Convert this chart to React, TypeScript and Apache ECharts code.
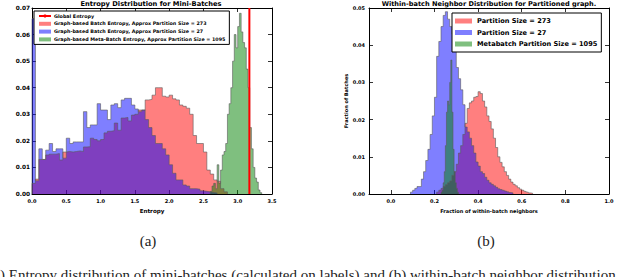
import React, { useEffect, useRef } from "react";
import * as echarts from "echarts";

// ---------- Data ----------
// (a) Entropy histograms
const ENTROPY_TICKS = [0, 0.5, 1.0, 1.5, 2.0, 2.5, 3.0, 3.5];
const GLOBAL_ENTROPY = 3.17;
const ENT_273_START = 0;
const ENT_273_BIN = 0.05;
const ENT_273 = [
  0.004, 0.0056, 0.013, 0.013, 0.0147, 0.015, 0.015, 0.0152, 0.0128, 0.0158,
  0.016, 0.0158, 0.016, 0.0162, 0.016, 0.0177, 0.0178, 0.021, 0.0205, 0.02,
  0.0205, 0.023, 0.0236, 0.0238, 0.0267, 0.024, 0.0286, 0.0288, 0.0275, 0.0297,
  0.03, 0.0316, 0.0316, 0.0354, 0.0356, 0.0372, 0.04, 0.04, 0.0368, 0.0365,
  0.0372, 0.0358, 0.0354, 0.0335, 0.033, 0.0323, 0.03, 0.022, 0.019, 0.019,
  0.0158, 0.009, 0.0075, 0.0053, 0.0048, 0.002, 0.0008,
];
const ENT_27_START = 0;
const ENT_27_BIN = 0.05;
const ENT_27 = [
  0.066, 0.005, 0.017, 0.013, 0.0165, 0.019, 0.016, 0.017, 0.017, 0.0135,
  0.021, 0.019, 0.0196, 0.0196, 0.0196, 0.031, 0.025, 0.026, 0.026, 0.034,
  0.0316, 0.0316, 0.028, 0.0335, 0.034, 0.0325, 0.0354, 0.036, 0.036, 0.0335,
  0.032, 0.031, 0.0316, 0.028, 0.025, 0.022, 0.019, 0.019, 0.017, 0.0147,
  0.011, 0.0078, 0.0053, 0.0053, 0.0034, 0.003, 0.002, 0.002, 0.0018, 0.0012,
  0.001, 0.0008, 0.0006, 0.0004,
];
const ENT_1095_START = 2.6;
const ENT_1095_BIN = 0.025;
const ENT_1095 = [
  0.001, 0.003, 0.004, 0.002, 0.011, 0.004, 0.009, 0.0147, 0.016, 0.019,
  0.03, 0.034, 0.04, 0.05, 0.06, 0.055, 0.063, 0.068, 0.061, 0.057,
  0.055, 0.047, 0.04, 0.025, 0.017, 0.01, 0.006, 0.0045, 0.0015, 0.0005,
];

// (b) Within-batch neighbour histograms
const NB_TICKS = [0, 0.2, 0.4, 0.6, 0.8, 1.0];
const NB_27_START = 0.09;
const NB_27_BIN = 0.01;
const NB_27 = [
  0.0005, 0.001, 0.0015, 0.002, 0.002, 0.004, 0.006, 0.009, 0.012, 0.016,
  0.021, 0.026, 0.037, 0.041, 0.045, 0.048, 0.049, 0.047, 0.045, 0.043,
  0.039, 0.034, 0.031, 0.028, 0.024, 0.018, 0.0167, 0.015, 0.013, 0.011,
  0.0086, 0.0075, 0.006, 0.0055, 0.0045, 0.0037, 0.003, 0.0026, 0.0022, 0.0018,
  0.0014, 0.0012, 0.001, 0.0008, 0.0006, 0.0004, 0.0003,
];
const NB_273_START = 0.21;
const NB_273_BIN = 0.01;
const NB_273 = [
  0.0005, 0.001, 0.0015, 0.002, 0.0025, 0.003, 0.0035, 0.005, 0.006, 0.008,
  0.011, 0.013, 0.016, 0.019, 0.023, 0.0245, 0.025, 0.026, 0.0262, 0.0275,
  0.027, 0.025, 0.0234, 0.021, 0.0195, 0.0175, 0.015, 0.0125, 0.01, 0.0085,
  0.0073, 0.006, 0.005, 0.004, 0.0032, 0.0026, 0.0022, 0.0017, 0.0013, 0.001,
  0.0007, 0.0005, 0.0003, 0.0002,
];
const NB_1095_START = 0.23;
const NB_1095_BIN = 0.005;
const NB_1095 = [
  0.0005, 0.001, 0.003, 0.006, 0.013, 0.022, 0.025, 0.024, 0.03, 0.036,
  0.022, 0.012, 0.006, 0.003, 0.0015, 0.0005,
];

const NAME_GLOBAL = "Global Entropy";
const NAME_E273 = "Graph-based Batch Entropy, Approx Partition Size = 273";
const NAME_E27 = "Graph-based Batch Entropy, Approx Partition Size = 27";
const NAME_E1095 = "Graph-based Meta-Batch Entropy, Approx Partition Size = 1095";
const NAME_P273 = "Partition Size = 273";
const NAME_P27 = "Partition Size = 27";
const NAME_P1095 = "Metabatch Partition Size = 1095";

// ---------- helpers ----------
function histPoints(start: number, width: number, values: number[]) {
  const pts: number[][] = [[start, 0]];
  values.forEach((v, i) => pts.push([start + i * width, v]));
  pts.push([start + values.length * width, 0]);
  return pts;
}

const FONT = "DejaVu Sans";
const RED = "rgba(255,0,0,0.5)";
const BLUE = "rgba(0,0,255,0.5)";
const GREEN = "rgba(0,128,0,0.5)";
const EDGE = "rgba(90,90,90,0.75)";

function histSeries(name: string, xi: number, yi: number, data: number[][], color: string) {
  return {
    type: "line",
    name,
    xAxisIndex: xi,
    yAxisIndex: yi,
    data,
    step: "end",
    symbol: "none",
    showSymbol: false,
    color,
    silent: true,
    lineStyle: { color: EDGE, width: 0.8 },
    areaStyle: { color, opacity: 1 },
  };
}

const axisLine = { show: true, onZero: false, lineStyle: { color: "#000", width: 1 } };
const tickIn = { show: true, inside: true, length: 4, lineStyle: { color: "#000", width: 0.8 } };

export default function App() {
  const ref = useRef<HTMLDivElement>(null);

  useEffect(() => {
    if (!ref.current) return;
    const chart = echarts.init(ref.current, undefined, { renderer: "svg" });

    const option: any = {
      animation: false,
      backgroundColor: "#fff",
      grid: [
        { left: 32, top: 8, width: 240, height: 186 },
        { left: 369, top: 8, width: 240, height: 186 },
      ],
      xAxis: [
        {
          type: "value", gridIndex: 0, position: "bottom", min: 0, max: 3.5, interval: 0.5,
          axisLine, axisTick: tickIn, splitLine: { show: false },
          axisLabel: {
            fontSize: 5, fontWeight: "bold", fontFamily: FONT, color: "#000", margin: 4,
            showMinLabel: true, showMaxLabel: true,
            formatter: (v: number) => v.toFixed(1),
          },
          name: "Entropy", nameLocation: "middle", nameGap: 14,
          nameTextStyle: { fontSize: 5.6, fontWeight: "bold", fontFamily: FONT, color: "#000" },
        },
        {
          type: "value", gridIndex: 0, position: "top", min: 0, max: 3.5, interval: 0.5,
          axisLine, axisTick: tickIn, splitLine: { show: false }, axisLabel: { show: false },
        },
        {
          type: "value", gridIndex: 1, position: "bottom", min: -0.1, max: 1.0,
          axisLine,
          axisTick: { ...tickIn, customValues: NB_TICKS },
          splitLine: { show: false },
          axisLabel: {
            customValues: NB_TICKS,
            fontSize: 5, fontWeight: "bold", fontFamily: FONT, color: "#000", margin: 4,
            formatter: (v: number) => v.toFixed(1),
          },
          name: "Fraction of within-batch neighbors", nameLocation: "middle", nameGap: 14,
          nameTextStyle: { fontSize: 5, fontWeight: "bold", fontFamily: FONT, color: "#000" },
        },
        {
          type: "value", gridIndex: 1, position: "top", min: -0.1, max: 1.0,
          axisLine,
          axisTick: { ...tickIn, customValues: NB_TICKS },
          splitLine: { show: false }, axisLabel: { show: false },
        },
      ],
      yAxis: [
        {
          type: "value", gridIndex: 0, position: "left", min: 0, max: 0.07, interval: 0.01,
          axisLine, axisTick: tickIn, splitLine: { show: false },
          axisLabel: {
            fontSize: 5.8, fontWeight: "bold", fontFamily: FONT, color: "#000", margin: 2,
            showMinLabel: true, showMaxLabel: true,
            formatter: (v: number) => v.toFixed(2),
          },
        },
        {
          type: "value", gridIndex: 0, position: "right", min: 0, max: 0.07, interval: 0.01,
          axisLine, axisTick: tickIn, splitLine: { show: false }, axisLabel: { show: false },
        },
        {
          type: "value", gridIndex: 1, position: "left", min: 0, max: 0.05, interval: 0.01,
          axisLine, axisTick: tickIn, splitLine: { show: false },
          axisLabel: {
            fontSize: 5, fontWeight: "bold", fontFamily: FONT, color: "#000", margin: 4,
            showMinLabel: true, showMaxLabel: true,
            formatter: (v: number) => v.toFixed(2),
          },
          name: "Fraction of Batches", nameLocation: "middle", nameGap: 20, nameRotate: 90,
          nameTextStyle: { fontSize: 5, fontWeight: "bold", fontFamily: FONT, color: "#000" },
        },
        {
          type: "value", gridIndex: 1, position: "right", min: 0, max: 0.05, interval: 0.01,
          axisLine, axisTick: tickIn, splitLine: { show: false }, axisLabel: { show: false },
        },
      ],
      legend: [
        {
          left: 34, top: 11, orient: "vertical",
          data: [
            { name: NAME_GLOBAL },
            { name: NAME_E273, icon: "rect" },
            { name: NAME_E27, icon: "rect" },
            { name: NAME_E1095, icon: "rect" },
          ],
          itemWidth: 12, itemHeight: 4, itemGap: 0.8,
          textStyle: { fontSize: 4.8, fontWeight: "bold", lineHeight: 7, fontFamily: FONT, color: "#000", padding: [0, 0, 0, -2] },
          borderColor: "#000", borderWidth: 1, backgroundColor: "#fff",
          padding: [1.5, 4, 1.5, 4], selectedMode: false,
        },
        {
          left: 452, top: 13, orient: "vertical",
          data: [
            { name: NAME_P273, icon: "rect" },
            { name: NAME_P27, icon: "rect" },
            { name: NAME_P1095, icon: "rect" },
          ],
          itemWidth: 17, itemHeight: 5, itemGap: 1.5,
          textStyle: { fontSize: 6.6, fontWeight: "bold", lineHeight: 10, fontFamily: FONT, color: "#000" },
          borderColor: "#000", borderWidth: 1, backgroundColor: "#fff",
          padding: [3, 4, 3, 3], selectedMode: false,
        },
      ],
      graphic: [
        {
          type: "text",
          style: {
            x: 151, y: 0, text: "Entropy Distribution for Mini-Batches",
            fontSize: 6.7, fontWeight: "bold", fontFamily: FONT, fill: "#000", textAlign: "center", textVerticalAlign: "top",
          },
        },
        {
          type: "text",
          style: {
            x: 489, y: 0, text: "Within-batch Neighbor Distribution for Partitioned graph.",
            fontSize: 6.6, fontWeight: "bold", fontFamily: FONT, fill: "#000", textAlign: "center", textVerticalAlign: "top",
          },
        },
        {
          type: "text",
          style: {
            x: 148, y: 233, text: "(a)",
            fontSize: 15, fontFamily: "Liberation Serif", fill: "#222", textAlign: "center", textVerticalAlign: "top",
          },
        },
        {
          type: "text",
          style: {
            x: 486, y: 233, text: "(b)",
            fontSize: 15, fontFamily: "Liberation Serif", fill: "#222", textAlign: "center", textVerticalAlign: "top",
          },
        },
        {
          type: "text",
          style: {
            x: 0, y: 267,
            text: ") Entropy distribution of mini-batches (calculated on labels) and (b) within-batch neighbor distribution",
            fontSize: 15, fontFamily: "Liberation Serif", fill: "#222", textAlign: "left", textVerticalAlign: "top",
          },
        },
      ],
      series: [
        histSeries(NAME_E273, 0, 0, histPoints(ENT_273_START, ENT_273_BIN, ENT_273), RED),
        histSeries(NAME_E27, 0, 0, histPoints(ENT_27_START, ENT_27_BIN, ENT_27), BLUE),
        histSeries(NAME_E1095, 0, 0, histPoints(ENT_1095_START, ENT_1095_BIN, ENT_1095), GREEN),
        {
          type: "line", name: NAME_GLOBAL, xAxisIndex: 0, yAxisIndex: 0,
          data: [[GLOBAL_ENTROPY, 0], [GLOBAL_ENTROPY, 0.07]],
          symbol: "none", showSymbol: false, color: "#ff0000", silent: true,
          lineStyle: { color: "#ff0000", width: 2 },
        },
        histSeries(NAME_P273, 2, 2, histPoints(NB_273_START, NB_273_BIN, NB_273), RED),
        histSeries(NAME_P27, 2, 2, histPoints(NB_27_START, NB_27_BIN, NB_27), BLUE),
        histSeries(NAME_P1095, 2, 2, histPoints(NB_1095_START, NB_1095_BIN, NB_1095), GREEN),
      ],
    };

    chart.setOption(option);
    return () => chart.dispose();
  }, []);

  return (
    <div
      ref={ref}
      style={{ position: "fixed", left: 0, top: 0, width: 640, height: 277, background: "#fff" }}
    />
  );
}
